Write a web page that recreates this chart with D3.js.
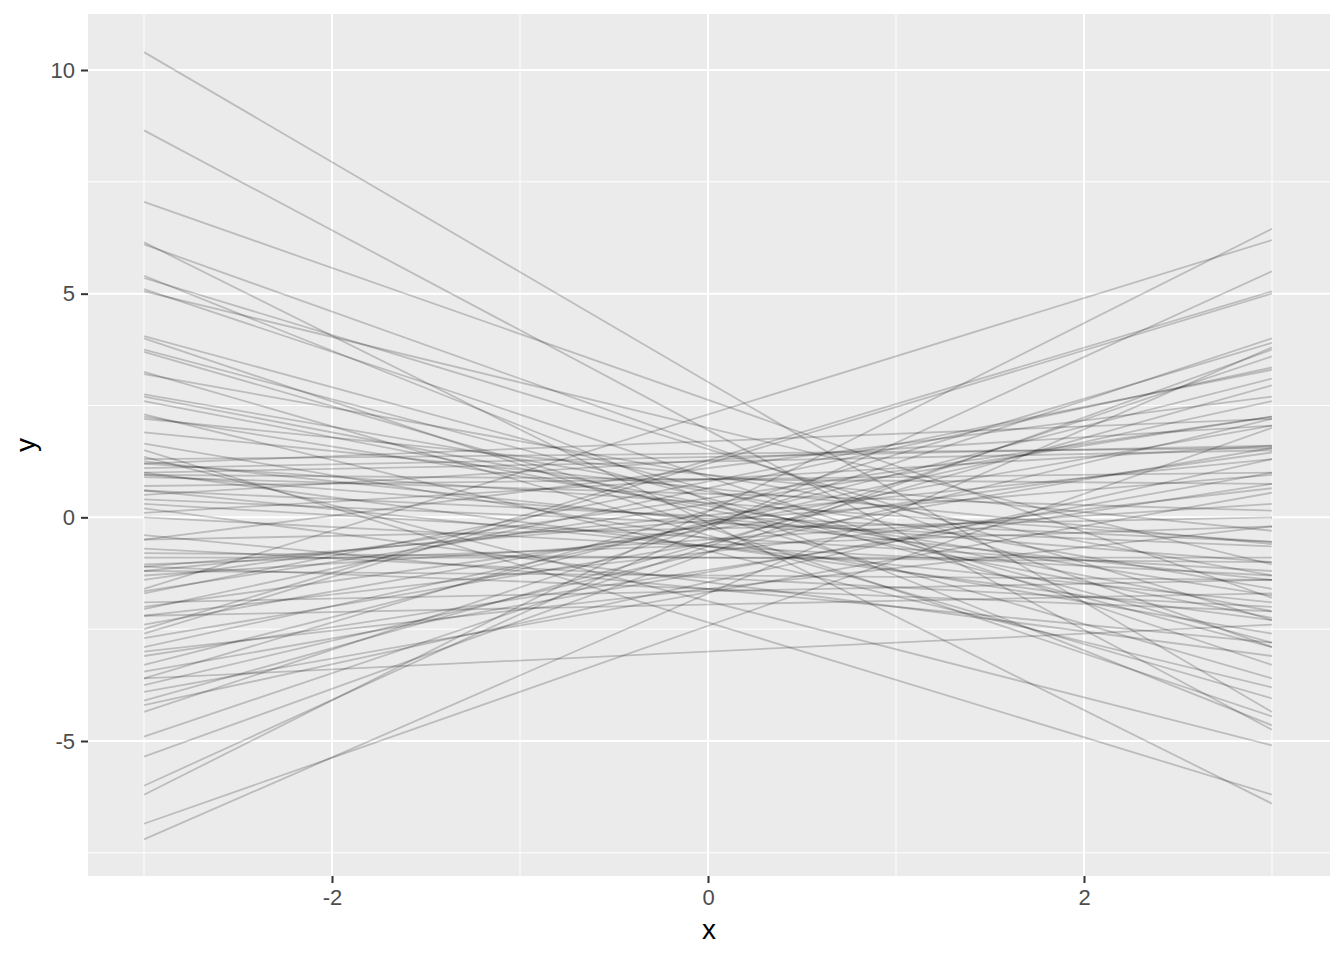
<!DOCTYPE html>
<html><head><meta charset="utf-8">
<script src="https://cdn.jsdelivr.net/npm/d3@7"></script>
<style>body{margin:0;background:#fff}svg{display:block}</style>
</head><body>
<script>
// x range of each simulated line
const xStart = -3, xEnd = 3;
// value of each line at x = -3 (left) and x = 3 (right)
const leftValues = [10.4,8.65,7.05,6.15,6.1,5.4,5.35,5.1,5.05,4.05,4.0,3.75,3.7,3.25,3.2,2.75,2.7,2.6,2.3,2.25,2.2,1.65,1.5,1.35,1.25,1.2,1.0,0.95,0.9,0.6,0.4,0.2,0.0,-0.4,-0.5,-0.8,-1.05,-1.1,-1.2,
  -1.3,-1.65,-2.0,-2.05,-2.2,-2.4,-2.6,-2.5,-2.7,-2.9,-3.1,-3.3,-3.45,-3.6,-3.75,-3.9,-4.1,-4.2,-4.35,-4.9,-5.35,-6.0,-6.2,-6.85,-7.2,-1.6,-1.7,-0.5,0.1,-1.1,1.0,1.2,0.95,
  0.5,1.3,-0.9,0.3,1.9,-3.0,-1.9,0.7,-2.2,-0.7,-3.6,1.1,-1.2,-1.4,0.6];
const rightValues = [-4.35,-4.75,-1.8,-6.4,-2.9,-4.65,-2.3,-3.3,-1.05,-2.8,-4.45,-2.9,-3.6,-4.05,-1.3,-1.6,-2.1,-2.25,-3.8,-1.75,-0.3,-2.6,-6.2,-5.1,-1.4,-0.55,-2.3,-1.0,0.15,-1.9,-0.65,-3.1,-1.3,-2.8,0.0,-1.0,-0.2,-2.1,-1.4,
  0.3,2.25,1.45,3.35,0.65,2.05,5.0,5.05,1.55,2.6,0.75,3.1,1.0,3.9,2.2,0.55,2.95,1.3,4.0,3.6,3.75,5.5,6.45,2.0,3.8,6.2,3.3,2.7,1.6,0.95,1.5,2.2,0.75,
  2.05,1.55,-0.9,-1.2,-0.6,-0.2,-1.4,1.0,-1.7,-2.0,-2.4,1.6,1.3,2.25,-0.55];
// axis breaks
const xMajor = [-2,0,2], xMinor = [-3,-1,1,3];
const yMajor = [-5,0,5,10], yMinor = [-7.5,-2.5,2.5,7.5];
const xTickLabels = ["-2","0","2"];
const yTickLabels = ["-5","0","5","10"];

const W = 1344, H = 960;
const panel = {left: 88, right: 1330, top: 14, bottom: 876};
const x = d3.scaleLinear().domain([-3,3]).range([144,1272]);
const y = d3.scaleLinear().domain([-5,10]).range([741,70]);

const svg = d3.select("body").append("svg").attr("width",W).attr("height",H)
  .style("font-family","Liberation Sans, Arial, sans-serif");

svg.append("rect").attr("x",panel.left).attr("y",panel.top)
  .attr("width",panel.right-panel.left).attr("height",panel.bottom-panel.top).attr("fill","#EBEBEB");

const grid = svg.append("g");
grid.selectAll(".xm").data(xMinor).join("line").attr("x1",d=>x(d)).attr("x2",d=>x(d))
  .attr("y1",panel.top).attr("y2",panel.bottom).attr("stroke","#fff").attr("stroke-width",1);
grid.selectAll(".ym").data(yMinor).join("line").attr("y1",d=>y(d)).attr("y2",d=>y(d))
  .attr("x1",panel.left).attr("x2",panel.right).attr("stroke","#fff").attr("stroke-width",1);
grid.selectAll(".xM").data(xMajor).join("line").attr("x1",d=>x(d)).attr("x2",d=>x(d))
  .attr("y1",panel.top).attr("y2",panel.bottom).attr("stroke","#fff").attr("stroke-width",2);
grid.selectAll(".yM").data(yMajor).join("line").attr("y1",d=>y(d)).attr("y2",d=>y(d))
  .attr("x1",panel.left).attr("x2",panel.right).attr("stroke","#fff").attr("stroke-width",2);

const lines = leftValues.map((l,i)=>[[xStart,l],[xEnd,rightValues[i]]]);
const lineGen = d3.line().x(d=>x(d[0])).y(d=>y(d[1]));
svg.append("g").selectAll("path").data(lines).join("path")
  .attr("d",lineGen).attr("fill","none").attr("stroke","#000").attr("stroke-opacity",0.2).attr("stroke-width",1.8);

// axes
const xAxis = d3.axisBottom(x).tickValues(xMajor).tickFormat((d,i)=>xTickLabels[i]).tickSize(7).tickPadding(6);
const gx = svg.append("g").attr("transform",`translate(0,${panel.bottom})`).call(xAxis);
const yAxis = d3.axisLeft(y).tickValues(yMajor).tickFormat((d,i)=>yTickLabels[i]).tickSize(7).tickPadding(6);
const gy = svg.append("g").attr("transform",`translate(${panel.left},0)`).call(yAxis);
[gx,gy].forEach(g=>{
  g.select(".domain").remove();
  g.selectAll(".tick line").attr("stroke","#333").attr("stroke-width",2);
  g.selectAll(".tick text").attr("fill","#4D4D4D").style("font-size","22px");
});
svg.append("text").attr("x",(panel.left+panel.right)/2).attr("y",939).attr("text-anchor","middle")
  .attr("fill","#000").style("font-size","28px").text("x");
svg.append("text").attr("transform",`translate(35,${(panel.top+panel.bottom)/2}) rotate(-90)`).attr("text-anchor","middle")
  .attr("fill","#000").style("font-size","28px").text("y");
</script>
</body></html>
